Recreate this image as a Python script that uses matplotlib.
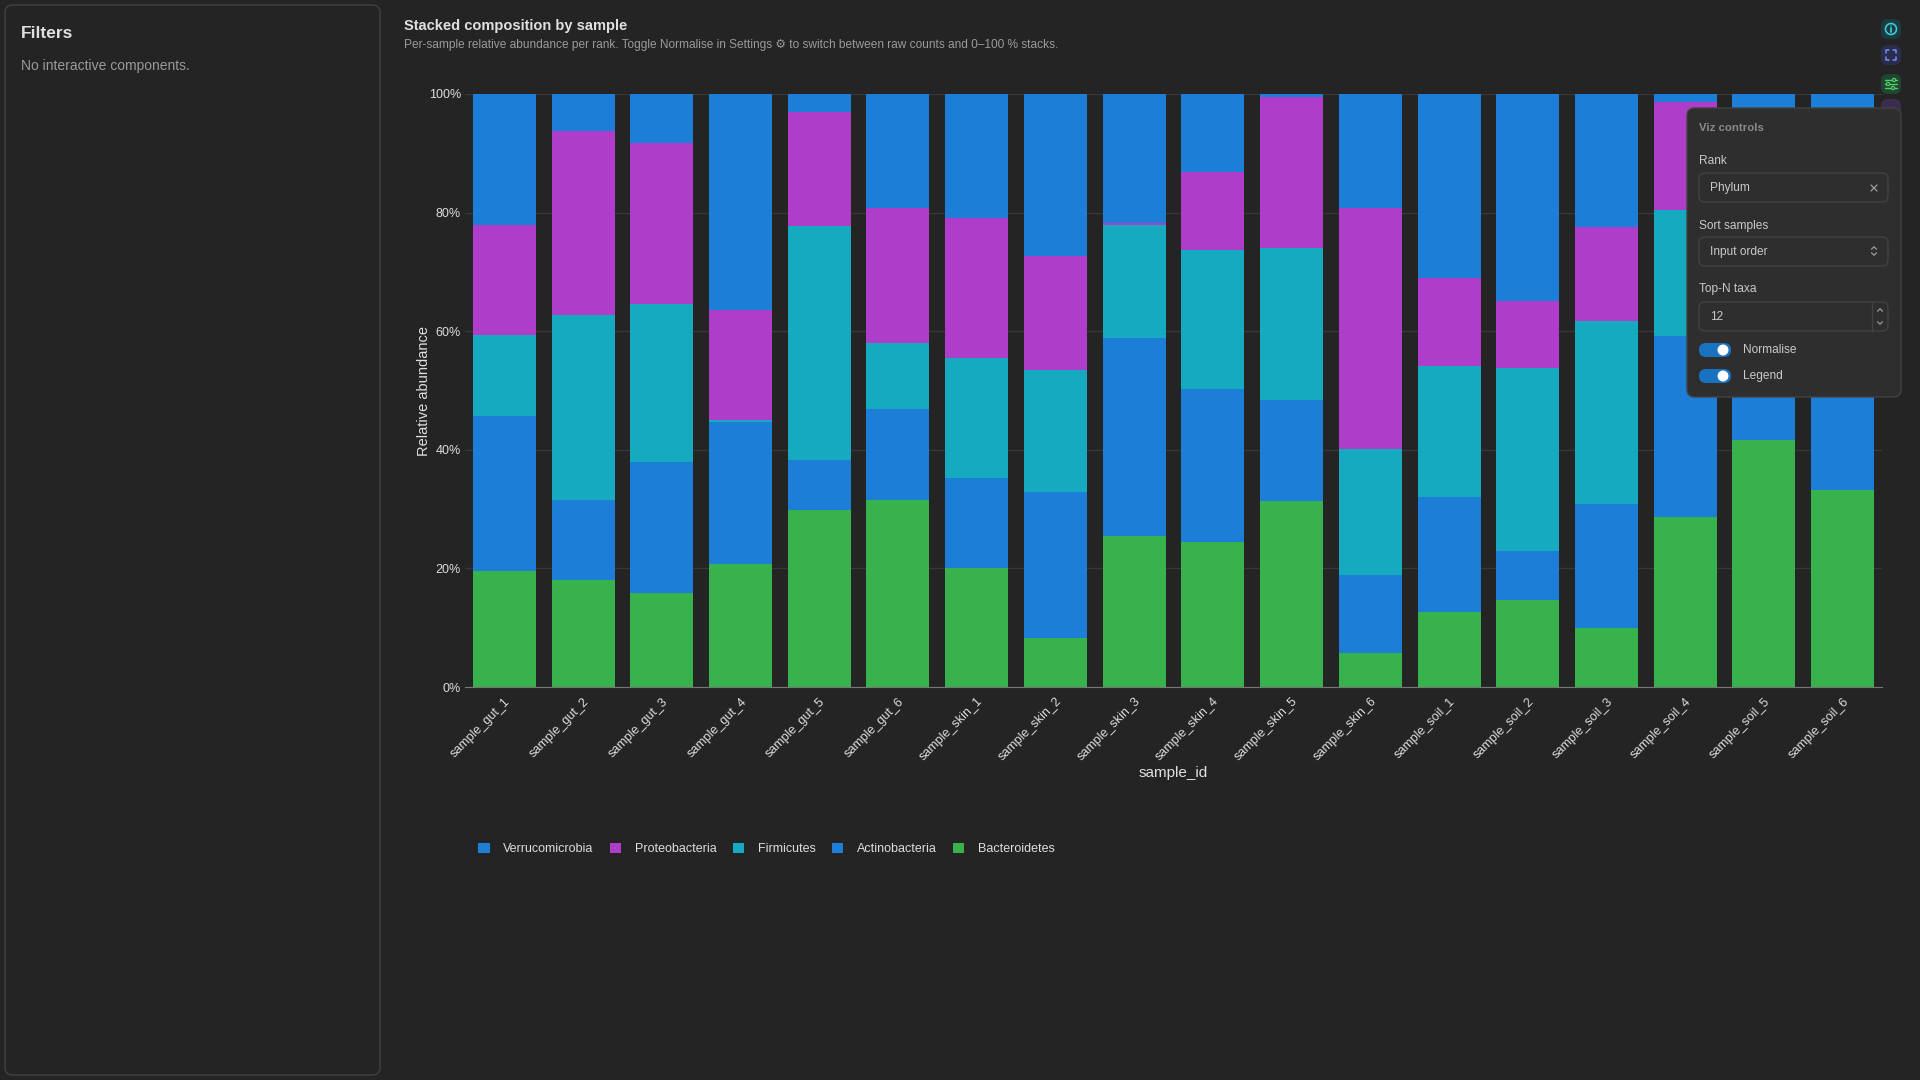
import matplotlib
matplotlib.use("Agg")
from matplotlib import pyplot as plt
from matplotlib.patches import FancyBboxPatch, Ellipse
import numpy as np

plt.rcParams['font.family'] = ['Liberation Sans', 'DejaVu Sans']

# data (percent of sample)
samples = ["sample_gut_1", "sample_gut_2", "sample_gut_3", "sample_gut_4", "sample_gut_5", "sample_gut_6",
           "sample_skin_1", "sample_skin_2", "sample_skin_3", "sample_skin_4", "sample_skin_5", "sample_skin_6",
           "sample_soil_1", "sample_soil_2", "sample_soil_3", "sample_soil_4", "sample_soil_5", "sample_soil_6"]
bacteroidetes = [19.6, 18.1, 15.8, 20.7, 29.8, 31.5, 20.1, 8.2, 25.5, 24.5, 31.3, 5.7, 12.7, 14.6, 10.0, 28.7, 41.6, 33.2]
actinobacteria = [26.1, 13.4, 22.2, 24.0, 8.4, 15.4, 15.2, 24.6, 33.4, 25.8, 17.1, 13.2, 19.3, 8.4, 20.8, 30.5, 16.4, 21.8]
firmicutes = [13.7, 31.3, 26.6, 0.3, 39.5, 11.1, 20.2, 20.6, 19.0, 23.4, 25.7, 21.3, 22.2, 30.8, 31.0, 21.3, 17.0, 17.0]
proteobacteria = [18.5, 31.0, 27.2, 18.5, 19.2, 22.8, 23.6, 19.3, 0.4, 13.1, 25.4, 40.5, 14.8, 11.3, 15.7, 18.1, 13.0, 13.0]
verrucomicrobia = [22.1, 6.2, 8.2, 36.5, 3.1, 19.2, 20.9, 27.3, 21.7, 13.2, 0.5, 19.3, 31.0, 34.9, 22.5, 1.4, 12.0, 15.0]

taxa = ["Bacteroidetes", "Actinobacteria", "Firmicutes", "Proteobacteria", "Verrucomicrobia"]
series = [bacteroidetes, actinobacteria, firmicutes, proteobacteria, verrucomicrobia]
colors = ["#37b24d", "#1c7ed6", "#15aabf", "#ae3ec9", "#1c7ed6"]

BG = "#242424"
W, H = 1920, 1080

def fx(px):
    return px / W

def fy(py):
    return 1 - py / H

fig = plt.figure(figsize=(19.2, 10.8), dpi=100, facecolor=BG)

def rbox(x0, y0, x1, y1, face, edge="none", lw=1, r=0.004, z=5):
    # rounded box from pixel corners (top-left, bottom-right)
    p = FancyBboxPatch((fx(x0), fy(y1)), fx(x1) - fx(x0), fy(y0) - fy(y1),
                       boxstyle="round,pad=0,rounding_size=%g" % r, transform=fig.transFigure,
                       facecolor=face, edgecolor=edge, linewidth=lw, zorder=z, mutation_aspect=W / H)
    fig.patches.append(p)

def dot(cx, cy, rpx, face="none", edge="none", lw=1, z=6):
    fig.patches.append(Ellipse((fx(cx), fy(cy)), 2 * rpx / W, 2 * rpx / H, transform=fig.transFigure,
                               facecolor=face, edgecolor=edge, linewidth=lw, zorder=z))

def seg(xs, ys, color, lw=1.1, z=6):
    fig.lines.append(plt.Line2D([fx(v) for v in xs], [fy(v) for v in ys], transform=fig.transFigure,
                                color=color, linewidth=lw, zorder=z, solid_capstyle="round"))

def chevron(cx, cy, up, color="#9a9a9a", s=3):
    d = -s / 2 if up else s / 2
    seg([cx - s, cx, cx + s], [cy - d, cy + d, cy - d], color, lw=0.9, z=13)

# left filters panel
rbox(5, 5, 380, 1075, BG, edge="#3d3d3d", lw=1.2, r=0.004, z=1)
fig.text(fx(21), fy(33), "Filters", color="#e0e0e0", fontsize=12.5, fontweight="bold", va="center")
fig.text(fx(21), fy(66), "No interactive components.", color="#9a9a9a", fontsize=10, va="center")

# titles
fig.text(fx(404), fy(26), "Stacked composition by sample", color="#e0e0e0", fontsize=10.5, fontweight="bold", va="center")
fig.text(fx(404), fy(45), "Per-sample relative abundance per rank. Toggle Normalise in Settings \u2699 to switch between raw counts and 0\u2013100 % stacks.",
         color="#9a9a9a", fontsize=8.6, va="center")

# chart
ax = fig.add_axes([fx(465), fy(687), fx(1882) - fx(465), fy(94) - fy(687)])
ax.set_facecolor(BG)

data = np.array(series)
data = data / data.sum(axis=0) * 100
x = np.arange(len(samples))
bottom = np.zeros(len(samples))
bars = []
for name, vals, c in zip(taxa, data, colors):
    b = ax.bar(x, vals, 0.8, bottom=bottom, color=c, label=name, zorder=2, linewidth=0)
    bars.append(b)
    bottom += vals

ax.set_xlim(-0.5, len(samples) - 0.5)
ax.set_ylim(0, 100)
ax.set_yticks([0, 20, 40, 60, 80, 100])
ax.set_yticklabels(["0%", "20%", "40%", "60%", "80%", "100%"])
ax.yaxis.grid(True, color="#383838", linewidth=1, zorder=0)
for s in ["top", "right", "left"]:
    ax.spines[s].set_visible(False)
ax.spines["bottom"].set_color("#777777")
ax.tick_params(axis="y", length=0, pad=3, labelsize=9, labelcolor="#dddddd")
ax.tick_params(axis="x", length=0, pad=6, labelsize=9, labelcolor="#dddddd")
ax.set_xticks(x)
ax.set_xticklabels(samples, rotation=45, ha="right", rotation_mode="anchor")
ax.set_xlabel("sample_id", color="#e0e0e0", fontsize=11, labelpad=2)
ax.set_ylabel("Relative abundance", color="#e0e0e0", fontsize=10.5, labelpad=-2)

ax.legend(handles=bars[::-1], loc="center left", bbox_to_anchor=(fx(467), fy(849)), bbox_transform=fig.transFigure,
          ncol=5, frameon=False, fontsize=9, labelcolor="#dddddd", handlelength=0.9, handleheight=0.9,
          handletextpad=1.1, columnspacing=1.3)

# right icon column
for cy, bg in [(29, "#1c3b40"), (55, "#2b2d4d"), (84, "#1f4630"), (109, "#3a2d4d")]:
    rbox(1881, cy - 10, 1901, cy + 10, bg, r=0.0035, z=5)
dot(1891, 29, 5.5, edge="#3bc9db", lw=1.2)
seg([1891, 1891], [28, 32], "#3bc9db", lw=1.3)
dot(1891, 26, 0.7, face="#3bc9db")
# fullscreen corners
for sx in (-1, 1):
    for sy in (-1, 1):
        seg([1891 + sx * 5, 1891 + sx * 5, 1891 + sx * 2], [55 + sy * 2, 55 + sy * 5, 55 + sy * 5], "#748ffc", lw=1.1)
# sliders
for dy, kx in ((-4, 1894), (0, 1888), (4, 1893)):
    seg([1885, 1897], [84 + dy, 84 + dy], "#51cf66", lw=1.0)
    dot(kx, 84 + dy, 1.6, face="#1f4630", edge="#51cf66", lw=0.9, z=7)

# viz controls panel
PANEL = "#2e2e2e"
EDGE = "#424242"
rbox(1687, 108, 1901, 397, PANEL, edge=EDGE, lw=1, r=0.004, z=10)
fig.text(fx(1699), fy(128), "Viz controls", color="#8a8a8a", fontsize=8.2, fontweight="bold", va="center", zorder=11)

def field(label, ly, top, text):
    fig.text(fx(1699), fy(ly), label, color="#c9c9c9", fontsize=8.6, va="center", zorder=11)
    rbox(1699, top, 1888, top + 29, PANEL, edge=EDGE, lw=1, r=0.003, z=11)
    fig.text(fx(1710), fy(top + 14.5), text, color="#c9c9c9", fontsize=8.6, va="center", zorder=12)

field("Rank", 161, 173, "Phylum")
seg([1871, 1877], [185, 191], "#a0a0a0", lw=0.9, z=13)
seg([1871, 1877], [191, 185], "#a0a0a0", lw=0.9, z=13)
field("Sort samples", 226, 237, "Input order")
chevron(1874, 248, True, s=2.5)
chevron(1874, 254, False, s=2.5)
field("Top-N taxa", 289, 302, "12")
seg([1872, 1872], [302, 331], EDGE, lw=1, z=12)
chevron(1880, 310, True, s=2.5)
chevron(1880, 323, False, s=2.5)

for ty, label in [(350, "Normalise"), (376, "Legend")]:
    rbox(1699, ty - 7, 1731, ty + 7, "#1971c2", r=0.0036, z=11)
    dot(1723, ty, 5.5, face="white", z=12)
    fig.text(fx(1743), fy(ty), label, color="#c9c9c9", fontsize=8.6, va="center", zorder=12)

fig.savefig("out.png", dpi=100, facecolor=BG)
